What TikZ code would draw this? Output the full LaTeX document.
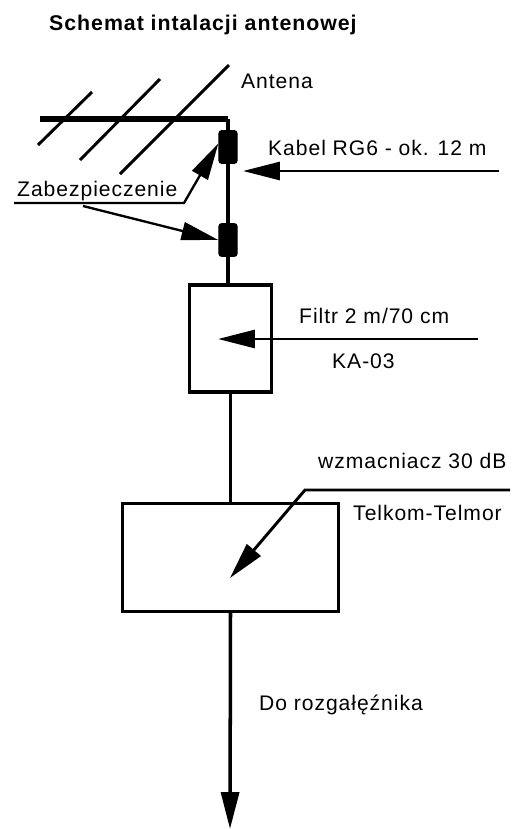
\documentclass[tikz,border=0pt]{standalone}
\usepackage{fontspec}
\setmainfont{Liberation Sans}
\newfontfamily\labelfont[LetterSpace=4.5]{Liberation Sans}
\usetikzlibrary{
		arrows.meta,
		positioning
	}
\tikzset{
		>={Triangle[length=37*0.85pt,width=18*0.85pt]},
		label/.style={inner sep=0pt,anchor=west,font=\labelfont\fontsize{18}{20}\selectfont},
		wire/.style={line width=3pt},
		thinwire/.style={line width=2.5pt},
		fuse/.style={draw,fill=black,line width=1pt,rounded corners=2.5pt,minimum width=15.5pt,minimum height=28pt,inner sep=0pt},
		unit/.style={draw,fill=white,line width=3pt,inner sep=0pt}
	}

\begin{document}
\begin{tikzpicture}[x=0.03cm,y=-0.03cm]
              \useasboundingbox (0,0) rectangle (529,829);

              % the title and the texts
              \node[label,font=\labelfont\fontsize{18.2}{20}\selectfont\bfseries] (title) at (49,25) {Schemat intalacji antenowej};
              \node[label] (antena) at (241,81) {Antena};
              \node[label] (kabel) at (268,148) {Kabel RG6 - ok. 12 m};
              \node[label] (zab) at (17,191) {Zabezpieczenie};
              \node[label] (filtr) at (299,316) {Filtr 2 m/70 cm};
              \node[label] (ka) at (332,361) {KA-03};
              \node[label] (wzm) at (318,461) {wzmacniacz 30 dB};
              \node[label] (telkom) at (353,513) {Telkom-Telmor};
              \node[label] (rozg) at (259,705) {Do rozgałęźnika};

              % the antenna
              \coordinate (boomL) at (40,119);
              \coordinate (boomR) at (228,119);
              \coordinate (e1a) at (38,145);
              \coordinate (e1b) at (92,92);
              \coordinate (e2a) at (80,160);
              \coordinate (e2b) at (160,79);
              \coordinate (e3a) at (120,174);
              \coordinate (e3b) at (229,65);
              \draw[thinwire] (e1a) -- (e1b);
              \draw[thinwire] (e2a) -- (e2b);
              \draw[thinwire] (e3a) -- (e3b);
              \draw[line width=5pt] (boomL) -- (boomR);

              % the units on the mast
              \node[fuse] (fuse1) at (228,147) {};
              \node[fuse] (fuse2) at (228,240) {};
              \node[unit,minimum width=70pt,minimum height=91pt] (filter) at (230.5,338.5) {};
              \node[unit,minimum width=184pt,minimum height=92pt] (amp) at (230.5,557.5) {};
              \coordinate (down) at (230,829);

              % the mast
              \draw[wire] (boomR) -- (fuse1);
              \draw[wire] (fuse1) -- (fuse2);
              \draw[wire] (fuse2) -- (fuse2 |- filter.north);
              \draw[wire] (filter.south -| amp.north) -- (amp.north);
              \draw[wire,->] (amp.south) -- (down);

              % the arrows
              \coordinate (kabelA) at (499,171);
              \coordinate (kabelB) at (243,171);
              \coordinate (filtrA) at (478,339);
              \coordinate (filtrB) at (218,339);
              \coordinate (wzmA) at (510,490);
              \coordinate (wzmB) at (305,490);
              \coordinate (wzmC) at (230,578);
              \coordinate (zabA) at (14,203);
              \coordinate (zabB) at (184,203);
              \coordinate (zabC) at (83,206);
              \draw[thinwire,->] (kabelA) -- (kabelB);
              \draw[thinwire,->] (filtrA) -- (filtrB);
              \draw[thinwire,->] (wzmA) -- (wzmB) -- (wzmC);
              \draw[line width=2pt,->] (zabA) -- (zabB) -- (fuse1.160);
              \draw[line width=2pt,->] (zabC) -- (fuse2.west);

          \end{tikzpicture}
\end{document}
